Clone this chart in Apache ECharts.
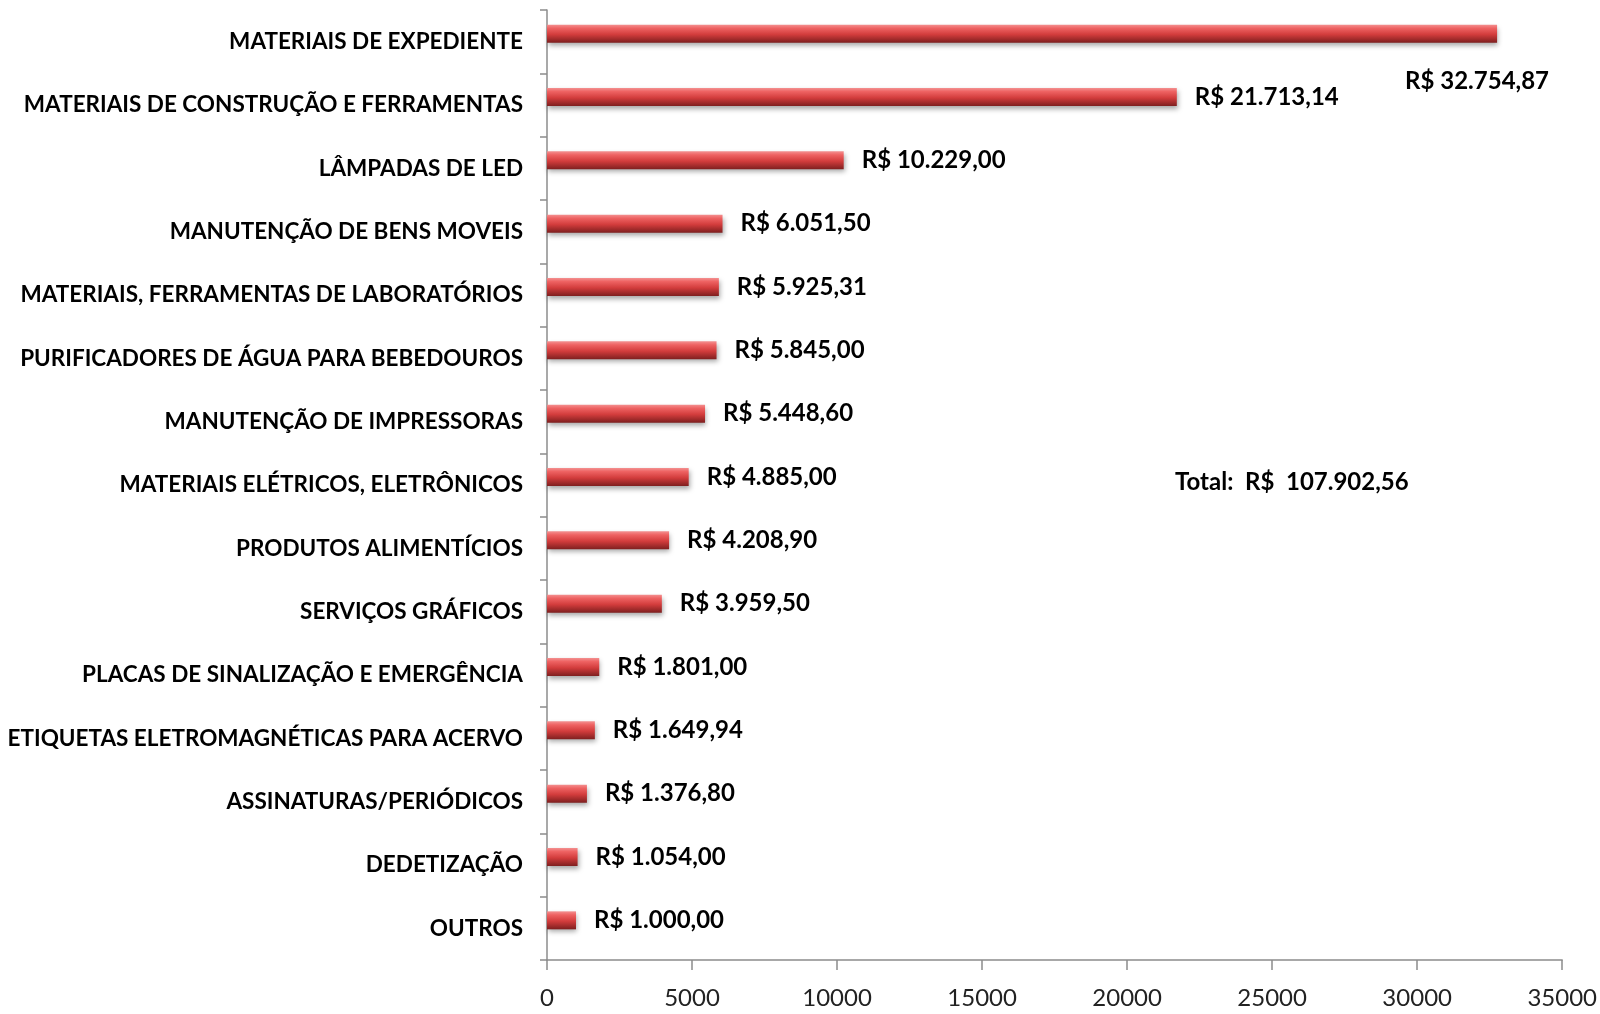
<!DOCTYPE html>
<html>
<head>
<meta charset="utf-8">
<script src="https://cdn.jsdelivr.net/npm/echarts@6/dist/echarts.min.js"></script>
<style>
  html, body { margin: 0; padding: 0; background: #fff; }
  #chart { width: 1600px; height: 1014px; }
</style>
</head>
<body>
<div id="chart"></div>
<script>
const categories = [
  'MATERIAIS DE EXPEDIENTE',
  'MATERIAIS DE CONSTRUÇÃO E FERRAMENTAS',
  'LÂMPADAS DE LED',
  'MANUTENÇÃO DE BENS MOVEIS',
  'MATERIAIS, FERRAMENTAS DE LABORATÓRIOS',
  'PURIFICADORES DE ÁGUA PARA BEBEDOUROS',
  'MANUTENÇÃO DE IMPRESSORAS',
  'MATERIAIS ELÉTRICOS, ELETRÔNICOS',
  'PRODUTOS ALIMENTÍCIOS',
  'SERVIÇOS GRÁFICOS',
  'PLACAS DE SINALIZAÇÃO E EMERGÊNCIA',
  'ETIQUETAS ELETROMAGNÉTICAS PARA ACERVO',
  'ASSINATURAS/PERIÓDICOS',
  'DEDETIZAÇÃO',
  'OUTROS'
]
const values = [32754.87, 21713.14, 10229.00, 6051.50, 5925.31, 5845.00, 5448.60,
  4885.00, 4208.90, 3959.50, 1801.00, 1649.94, 1376.80, 1054.00, 1000.00]
const xTicks = { min: 0, max: 35000, interval: 5000 }
const totalText = 'Total:  R$  107.902,56'

const font = 'Lato, "Open Sans", sans-serif'

// formata no padrão brasileiro: R$ 32.754,87
function brl(v) {
  const parts = v.toFixed(2).split('.')
  const int = parts[0].replace(/\B(?=(\d{3})+(?!\d))/g, '.')
  return 'R$ ' + int + ',' + parts[1]
}

const barColor = {
  type: 'linear', x: 0, y: 0, x2: 0, y2: 1,
  colorStops: [
    { offset: 0, color: '#f39090' },
    { offset: 0.2, color: '#ee6262' },
    { offset: 0.55, color: '#d23c3c' },
    { offset: 1, color: '#7e1f1f' }
  ]
}

const seriesData = values.map((v, i) => {
  const item = { value: v }
  if (i === 0) {
    // rótulo do maior valor fica solto abaixo da barra
    item.label = { offset: [-110, 48] }
  }
  return item
})

const myChart = echarts.init(document.getElementById('chart'))
myChart.setOption({
  animation: false,
  textStyle: { fontFamily: font },
  title: {
    text: totalText,
    left: 1170,
    top: 465,
    textStyle: { fontFamily: font, fontSize: 24, fontWeight: 'bold', color: '#000' }
  },
  grid: { left: 547, right: 37, top: 10, bottom: 54 },
  xAxis: {
    type: 'value',
    min: xTicks.min,
    max: xTicks.max,
    interval: xTicks.interval,
    splitLine: { show: false },
    axisLine: { show: true, lineStyle: { color: '#8c8c8c', width: 1.5 } },
    axisTick: { show: true, length: 10, lineStyle: { color: '#8c8c8c', width: 1.5 } },
    axisLabel: { fontSize: 24, color: '#222', margin: 26, fontFamily: font, formatter: v => String(v) }
  },
  yAxis: {
    type: 'category',
    inverse: true,
    data: categories,
    axisLine: { show: true, lineStyle: { color: '#8c8c8c', width: 1.5 } },
    axisTick: { show: true, length: 7, lineStyle: { color: '#8c8c8c', width: 1.5 } },
    axisLabel: { fontSize: 22.5, fontWeight: 'bold', color: '#000', margin: 24, fontFamily: font, padding: [5, 0, 0, 0] }
  },
  series: [
    {
      type: 'bar',
      data: seriesData,
      barWidth: 18,
      barGap: '0%',
      itemStyle: {
        color: barColor,
        shadowBlur: 5,
        shadowOffsetY: 3,
        shadowOffsetX: 1,
        shadowColor: 'rgba(0,0,0,0.35)'
      },
      label: {
        show: true,
        position: 'right',
        distance: 18,
        fontSize: 24,
        fontWeight: 'bold',
        color: '#000',
        fontFamily: font,
        formatter: p => brl(p.value)
      }
    },
    {
      // série vazia só para deslocar a barra para cima dentro da faixa
      type: 'bar',
      data: values.map(() => null),
      barWidth: 16,
      silent: true
    }
  ]
})
</script>
</body>
</html>
